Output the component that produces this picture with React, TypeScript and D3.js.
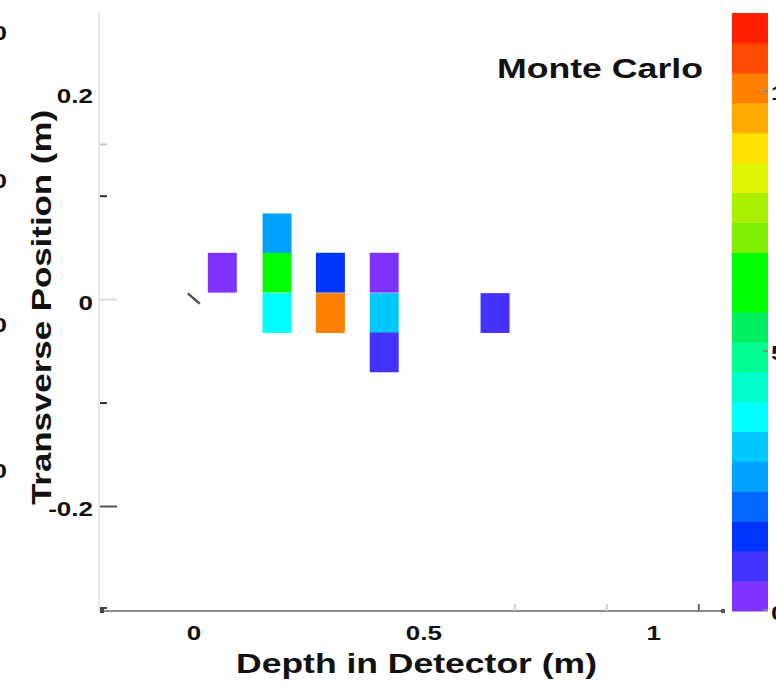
import React from "react";
import * as d3 from "d3";

// Energy deposits binned by depth (m) and transverse position (m)
const cellDepth = [0.064, 0.183, 0.183, 0.183, 0.299, 0.299, 0.416, 0.416, 0.416, 0.657];
const cellPosition = [0.026, 0.064, 0.026, -0.013, 0.026, -0.013, 0.026, -0.013, -0.051, -0.013];
const cellValue = [0.3, 2.6, 6.2, 3.7, 1.4, 10.0, 0.3, 3.1, 0.85, 0.85];
const cellWidth = 0.063;
const cellHeight = 0.0385;

// Incoming track segment near the vertex
const trackDepth = [-0.011, 0.015];
const trackPosition = [0.006, -0.004];

// Colour map, lowest band first
const colorBands = [
  "#8033ff", "#4433ff", "#0033ff", "#0066ff", "#00a0ff",
  "#00c8ff", "#00ffff", "#00ffcc", "#00ff90", "#00f060",
  "#00ff00", "#00ff00", "#80f000", "#aaf000", "#e0f500",
  "#ffe000", "#ffaa00", "#ff8000", "#ff4800", "#ff2000",
];
const colorDomain = [0, 11.5];
const colorTicks = [0, 5, 10];

const xDomain = [-0.202, 1.157];
const yDomain = [-0.301, 0.278];
const xTickLabels = [0, 0.5, 1];
const xMinorTicks = [0.7, 0.9, 1.1];
const yTickLabels = [0.2, 0, -0.2];
const yMinorTicks = [0.15, 0.1, -0.1];
const yMajorTicks = [0, -0.2];

// Labels of the neighbouring panel, clipped at the page edge
const neighbourLabels = ["40", "30", "20", "10"];
const neighbourLabelY = [33, 181, 325, 471];

const FONT = "'Liberation Sans', Arial, Helvetica, sans-serif";

// Numbers printed with a plain hyphen for negatives
const fmt = (t: number) => String(t);

function StretchText({ x, y, sx = 1.3, size = 20, anchor = "middle", children }: any) {
  return (
    <text
      transform={`translate(${x},${y}) scale(${sx},1)`}
      textAnchor={anchor}
      dominantBaseline="central"
      fontFamily={FONT}
      fontWeight="bold"
      fontSize={size}
      fill="#111"
    >
      {children}
    </text>
  );
}

export default function App() {
  const width = 776;
  const height = 688;
  const plot = { left: 100, right: 725, top: 12, bottom: 611 };
  const bar = { left: 732, right: 768, top: 13, bottom: 611 };

  const x = d3.scaleLinear().domain(xDomain).range([plot.left, plot.right]);
  const y = d3.scaleLinear().domain(yDomain).range([plot.bottom, plot.top]);
  const color = d3.scaleQuantize<string>().domain(colorDomain).range(colorBands);
  const cy = d3.scaleLinear().domain(colorDomain).range([bar.bottom, bar.top]);
  const bandStep = (colorDomain[1] - colorDomain[0]) / colorBands.length;

  const cells = cellValue.map((v, i) => ({
    depth: cellDepth[i],
    pos: cellPosition[i],
    value: v,
  }));

  const trackLine = d3
    .line<number>()
    .x((_, i) => x(trackDepth[i]))
    .y((d) => y(d));

  return (
    <svg
      width={width}
      height={height}
      style={{ position: "absolute", left: 0, top: 0, background: "#fff" }}
    >
      {/* clipped labels of the panel to the left */}
      {neighbourLabels.map((t, i) => (
        <StretchText key={t} x={7} y={neighbourLabelY[i]} anchor="end">
          {t}
        </StretchText>
      ))}

      {/* axes frame */}
      <line x1={plot.left - 1} x2={plot.left - 1} y1={plot.top} y2={plot.bottom} stroke="#e8e8e8" strokeWidth={2} />
      <line x1={plot.left} x2={plot.right} y1={plot.bottom} y2={plot.bottom} stroke="#8a8a8a" strokeWidth={2} />
      <rect x={plot.left} y={plot.bottom - 2} width={4} height={4} fill="#444" />
      <rect x={plot.right - 4} y={plot.bottom - 2} width={4} height={4} fill="#555" />

      {/* y ticks */}
      {yMinorTicks.map((t) => (
        <line key={t} x1={plot.left} x2={plot.left + 7} y1={y(t)} y2={y(t)}
          stroke={t > 0.12 ? "#c8c8c8" : "#333"} strokeWidth={2} />
      ))}
      {yMajorTicks.map((t) => (
        <line key={t} x1={plot.left} x2={plot.left + 17} y1={y(t)} y2={y(t)}
          stroke={t === 0 ? "#dcdcdc" : "#555"} strokeWidth={2} />
      ))}
      <line x1={plot.left} x2={plot.left + 7} y1={plot.bottom - 3} y2={plot.bottom - 3} stroke="#444" strokeWidth={2} />

      {/* x ticks */}
      {xMinorTicks.map((t) => (
        <line key={t} x1={x(t)} x2={x(t)} y1={plot.bottom} y2={plot.bottom - 7}
          stroke={t > 1 ? "#666" : "#cfcfcf"} strokeWidth={2} />
      ))}

      {/* tick labels */}
      {yTickLabels.map((t) => (
        <StretchText key={t} x={93} y={y(t) + 3} anchor="end">
          {fmt(t)}
        </StretchText>
      ))}
      {xTickLabels.map((t) => (
        <StretchText key={t} x={x(t) + 1} y={633}>
          {fmt(t)}
        </StretchText>
      ))}

      {/* binned cells */}
      {cells.map((c, i) => (
        <rect
          key={i}
          x={x(c.depth - cellWidth / 2)}
          y={y(c.pos + cellHeight / 2)}
          width={x(c.depth + cellWidth / 2) - x(c.depth - cellWidth / 2)}
          height={y(c.pos - cellHeight / 2) - y(c.pos + cellHeight / 2)}
          fill={color(c.value)}
        />
      ))}

      {/* vertex track */}
      <path d={trackLine(trackPosition) || ""} stroke="#555" strokeWidth={2.5} fill="none" />

      {/* colour bar */}
      {colorBands.map((c, i) => (
        <rect
          key={i}
          x={bar.left}
          width={bar.right - bar.left}
          y={cy(colorDomain[0] + (i + 1) * bandStep)}
          height={cy(colorDomain[0] + i * bandStep) - cy(colorDomain[0] + (i + 1) * bandStep) + 0.5}
          fill={c}
        />
      ))}
      {colorTicks.map((t) => (
        <g key={t}>
          <line x1={bar.right - 5} x2={bar.right} y1={Math.min(cy(t), bar.bottom - 1)} y2={Math.min(cy(t), bar.bottom - 1)} stroke="#888" strokeWidth={2} />
          <StretchText x={771} y={cy(t) + 2} anchor="start">
            {fmt(t)}
          </StretchText>
        </g>
      ))}

      {/* titles */}
      <text x={497} y={78} textLength={206} lengthAdjust="spacingAndGlyphs"
        fontFamily={FONT} fontWeight="bold" fontSize={27} fill="#111">
        Monte Carlo
      </text>
      <text x={236} y={673} textLength={361} lengthAdjust="spacingAndGlyphs"
        fontFamily={FONT} fontWeight="bold" fontSize={28} fill="#111">
        Depth in Detector (m)
      </text>
      <text transform="translate(51,505) rotate(-90)" textLength={395} lengthAdjust="spacingAndGlyphs"
        fontFamily={FONT} fontWeight="bold" fontSize={28} fill="#111">
        Transverse Position (m)
      </text>
    </svg>
  );
}
